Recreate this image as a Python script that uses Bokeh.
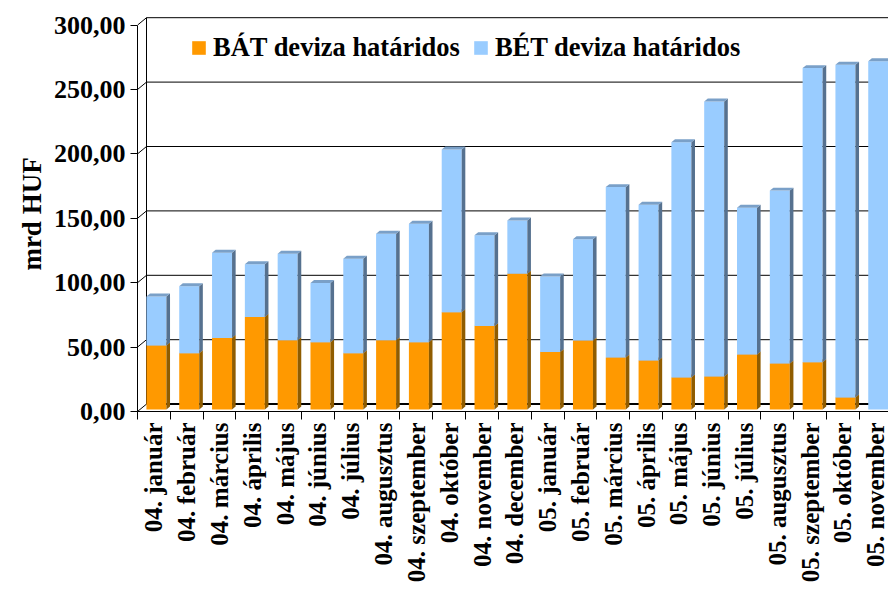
import math
from bokeh.plotting import figure
from bokeh.models import (Range1d, FixedTicker, Legend, LegendItem, ColumnDataSource,
                          CustomJSTickFormatter)
from bokeh.embed import file_html
from bokeh.resources import INLINE

# ---------------- data ----------------
months = ["04. január", "04. február", "04. március", "04. április", "04. május",
          "04. június", "04. július", "04. augusztus", "04. szeptember", "04. október",
          "04. november", "04. december", "05. január", "05. február", "05. március",
          "05. április", "05. május", "05. június", "05. július", "05. augusztus",
          "05. szeptember", "05. október", "05. november"]
bat = [49.7, 43.7, 55.4, 71.7, 53.8, 52.2, 43.7, 53.8, 52.2, 75.5, 64.7, 105.4,
       44.5, 53.6, 40.4, 38.0, 24.8, 25.6, 42.7, 35.7, 36.7, 9.3, 0.0]
bet = [38.0, 52.0, 66.3, 41.1, 67.1, 45.9, 73.3, 82.6, 92.0, 126.4, 70.6, 41.3,
       58.8, 78.6, 132.2, 120.9, 182.7, 213.5, 113.9, 134.2, 228.3, 258.3, 270.4]
y_ticks = [0, 50, 100, 150, 200, 250, 300]
series_names = ["BÁT deviza határidos", "BÉT deviza határidos"]

# ---------------- style / geometry ----------------
FONT = "Liberation Serif"
ORANGE, ORANGE_SIDE, ORANGE_TOP = "#FF9900", "#8F5C00", "#C77700"
BLUE, BLUE_SIDE, BLUE_TOP = "#99CCFF", "#56718F", "#7AA0C8"

W, H = 888, 589
CAT_PX = 32.81
Y_PX = 1.288
LEFT, TOP, BOTTOM = 137, 16, 178
FRAME_W = W - LEFT
FRAME_H = H - TOP - BOTTOM
X0 = -0.5
x_end = X0 + FRAME_W / CAT_PX
y_end = FRAME_H / Y_PX
DX = 9.0 / CAT_PX       # depth of the 3D box (data units)
DY = 7.4 / Y_PX
F_FRONT, F_BACK = 0.28, 0.68
HW = 10.0 / CAT_PX

p = figure(width=W, height=H, x_range=Range1d(X0, x_end), y_range=Range1d(0, y_end),
           output_backend="svg", toolbar_location=None,
           min_border_left=LEFT, min_border_right=0, min_border_top=TOP,
           min_border_bottom=BOTTOM)
p.xgrid.visible = False
p.ygrid.visible = False
p.outline_line_color = None
p.background_fill_color = "white"
p.border_fill_color = "white"

# ---------------- back wall & side wall ----------------
top_val = y_ticks[-1]
wall_xs, wall_ys, wall_w = [], [], []
for v in y_ticks:
    wall_xs.append([X0 + DX, x_end + 1])
    wall_ys.append([v + DY, v + DY])
    wall_w.append(2 if v == 0 else 1)
p.multi_line(xs=wall_xs, ys=wall_ys, line_color="black", line_width=wall_w)
diag_xs = [[X0, X0 + DX] for v in y_ticks]
diag_ys = [[v, v + DY] for v in y_ticks]
p.multi_line(xs=diag_xs + [[X0 + DX, X0 + DX]], ys=diag_ys + [[DY, top_val + DY]],
             line_color="black", line_width=1)

# ---------------- bars ----------------
fx, fy = F_FRONT * DX, F_FRONT * DY
ddx, ddy = (F_BACK - F_FRONT) * DX, (F_BACK - F_FRONT) * DY


def draw_series(bottoms, tops, c_front, c_side, c_top):
    left, right, bot, top = [], [], [], []
    sxs, sys_, txs, tys = [], [], [], []
    for k, (y0, y1) in enumerate(zip(bottoms, tops)):
        if y1 - y0 <= 0:
            continue
        xl, xr = k - HW + fx, k + HW + fx
        yb, yt = y0 + fy, y1 + fy
        left.append(xl); right.append(xr); bot.append(yb); top.append(yt)
        sxs.append([xr, xr + ddx, xr + ddx, xr])
        sys_.append([yb, yb + ddy, yt + ddy, yt])
        txs.append([xl, xl + ddx, xr + ddx, xr])
        tys.append([yt, yt + ddy, yt + ddy, yt])
    src = ColumnDataSource(dict(left=left, right=right, bottom=bot, top=top))
    r = p.quad(left="left", right="right", bottom="bottom", top="top", source=src,
               fill_color=c_front, line_color=None)
    p.patches(xs=sxs, ys=sys_, fill_color=c_side, line_color=None)
    p.patches(xs=txs, ys=tys, fill_color=c_top, line_color=None)
    return r


zeros = [0.0] * len(bat)
totals = [a + b for a, b in zip(bat, bet)]
r_bat = draw_series(zeros, bat, ORANGE, ORANGE_SIDE, ORANGE_TOP)
r_bet = draw_series(bat, totals, BLUE, BLUE_SIDE, BLUE_TOP)

# ---------------- axes ----------------
yax = p.yaxis[0]
yax.ticker = FixedTicker(ticks=y_ticks, minor_ticks=[])
yax.formatter = CustomJSTickFormatter(code="return tick.toFixed(2).replace('.', ',');")
yax.bounds = (0, top_val)
yax.major_tick_out = 7
yax.major_tick_in = 0
yax.minor_tick_out = 0
yax.minor_tick_in = 0
yax.major_label_standoff = 5
yax.major_label_text_font = FONT
yax.major_label_text_font_style = "bold"
yax.major_label_text_font_size = "26px"
yax.major_label_text_color = "black"
yax.axis_label = "mrd HUF"
yax.axis_label_text_font = FONT
yax.axis_label_text_font_style = "bold"
yax.axis_label_text_font_size = "27px"
yax.axis_label_text_color = "black"
yax.axis_label_standoff = 4
yax.axis_line_color = "black"
yax.major_tick_line_color = "black"

n = len(months)
xax = p.xaxis[0]
xax.ticker = FixedTicker(ticks=list(range(n)), minor_ticks=[k + 0.5 for k in range(-1, n)])
xax.formatter = CustomJSTickFormatter(args=dict(labels=months),
                                      code="const i = Math.round(tick); return (i >= 0 && i < labels.length) ? labels[i] : '';")
xax.bounds = (X0, X0 + n)
xax.axis_label = None
xax.major_label_orientation = math.pi / 2
xax.major_tick_out = 0
xax.major_tick_in = 0
xax.minor_tick_out = 8
xax.minor_tick_in = 0
xax.major_label_standoff = 3
xax.major_label_text_font = FONT
xax.major_label_text_font_style = "bold"
xax.major_label_text_font_size = "25px"
xax.major_label_text_color = "black"
xax.axis_line_color = "black"
xax.minor_tick_line_color = "black"

# ---------------- legend ----------------
legend = Legend(items=[LegendItem(label=series_names[0], renderers=[r_bat]),
                       LegendItem(label=series_names[1], renderers=[r_bet])],
                orientation="horizontal", location=(53, FRAME_H - 17 - 30),
                glyph_width=17, glyph_height=17, label_standoff=6, spacing=12,
                padding=0, margin=0, border_line_color=None, background_fill_alpha=0,
                label_text_font=FONT, label_text_font_style="bold",
                label_text_font_size="26.5px", label_text_color="black")
p.add_layout(legend)

open("out.html", "w").write(file_html(p, INLINE))
